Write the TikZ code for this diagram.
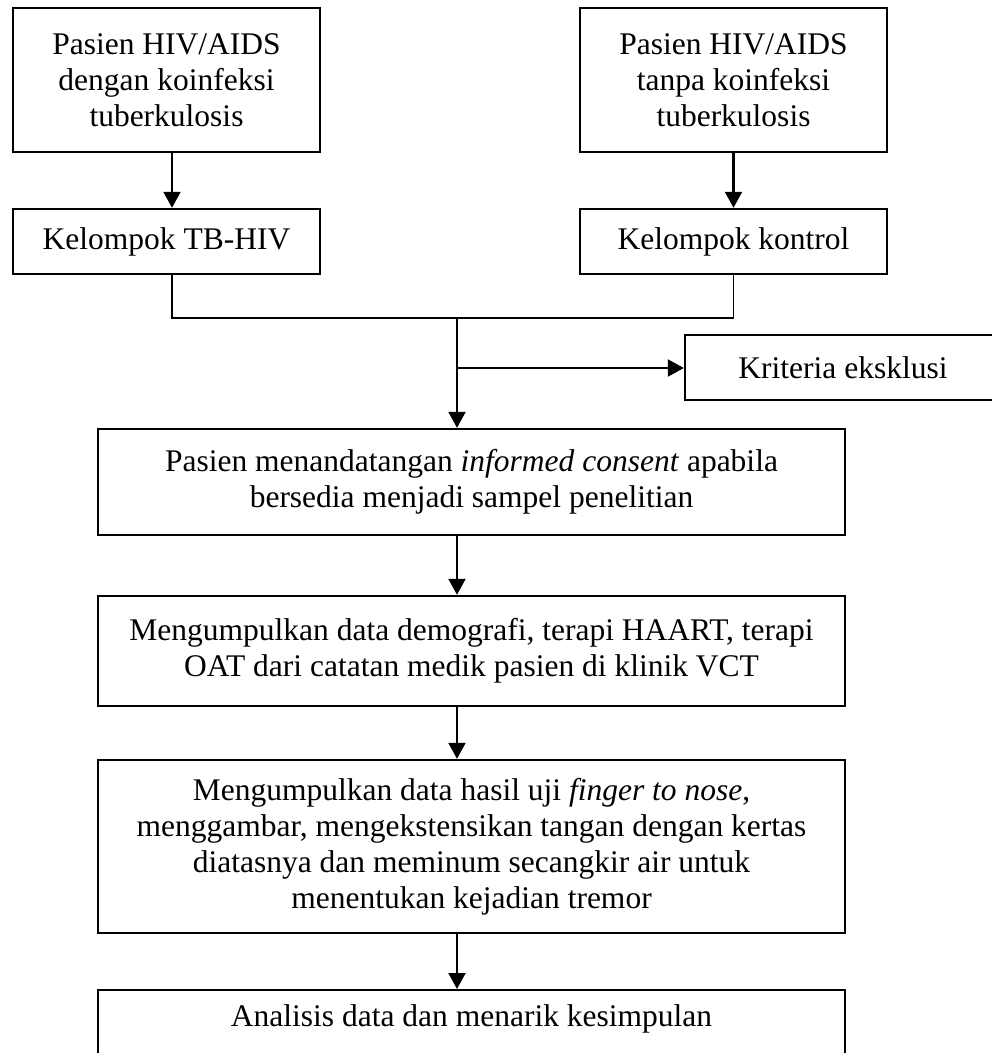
\documentclass[tikz,border=0pt]{standalone}
\usepackage{fontspec}
\setmainfont{Liberation Serif}
\usetikzlibrary{arrows.meta}
\begin{document}
\begin{tikzpicture}[x=1pt,y=-1pt,
  box/.style={draw=black,line width=2.4pt,align=center,inner sep=4pt,
    font=\fontsize{31.5}{36}\selectfont},
  arrowline/.style={line width=2.2pt,-{Triangle[length=16pt,width=17pt]}},
  joinline/.style={line width=1.7pt}]
\useasboundingbox (0,0) rectangle (992,1053);
\fill[white] (0,0) rectangle (992,1053);
\clip (0,0) rectangle (992,1053);
\node[box,minimum width=307pt,minimum height=144pt] (b1) at (166.5,80)
  {Pasien HIV/AIDS\\dengan koinfeksi\\tuberkulosis};
\node[box,minimum width=307pt,minimum height=144pt] (b2) at (733.5,80)
  {Pasien HIV/AIDS\\tanpa koinfeksi\\tuberkulosis};
\node[box,minimum width=307pt,minimum height=65pt] (b3) at (166.5,241.5)
  {Kelompok TB-HIV};
\node[box,minimum width=307pt,minimum height=65pt] (b4) at (733.5,241.5)
  {Kelompok kontrol};
\node[box,minimum width=316pt,minimum height=65pt] (krit) at (843,367.5)
  {Kriteria eksklusi};
\node[box,minimum width=747pt,minimum height=106pt] (b5) at (471.5,482)
  {Pasien menandatangan \textit{informed consent} apabila\\bersedia menjadi sampel penelitian};
\node[box,minimum width=747pt,minimum height=110pt] (b6) at (471.5,651)
  {Mengumpulkan data demografi, terapi HAART, terapi\\OAT dari catatan medik pasien di klinik VCT};
\node[box,minimum width=747pt,minimum height=173pt] (b7) at (471.5,846.5)
  {Mengumpulkan data hasil uji \textit{finger to nose},\\menggambar, mengekstensikan tangan dengan kertas\\diatasnya dan meminum secangkir air untuk\\menentukan kejadian tremor};
\node[box,minimum width=747pt,text height=24pt,text depth=70pt,inner ysep=12pt,anchor=north] (b8) at (471.5,989)
  {Analisis data dan menarik kesimpulan};
\coordinate (m) at (457,318);
\coordinate (k) at (457,368);
\draw[arrowline] ([xshift=5.5pt]b1.south) -- ([xshift=5.5pt]b3.north);
\draw[arrowline] (b2.south) -- (b4.north);
\draw[joinline] ([xshift=5.5pt]b3.south) |- (m);
\draw[joinline] (b4.south) |- (m);
\draw[arrowline] (m) -- (m |- b5.north);
\draw[arrowline] (k) -- (k -| krit.west);
\draw[arrowline] (b5.south -| m) -- (b6.north -| m);
\draw[arrowline] (b6.south -| m) -- (b7.north -| m);
\draw[arrowline] (b7.south -| m) -- (b8.north -| m);
\end{tikzpicture}
\end{document}
